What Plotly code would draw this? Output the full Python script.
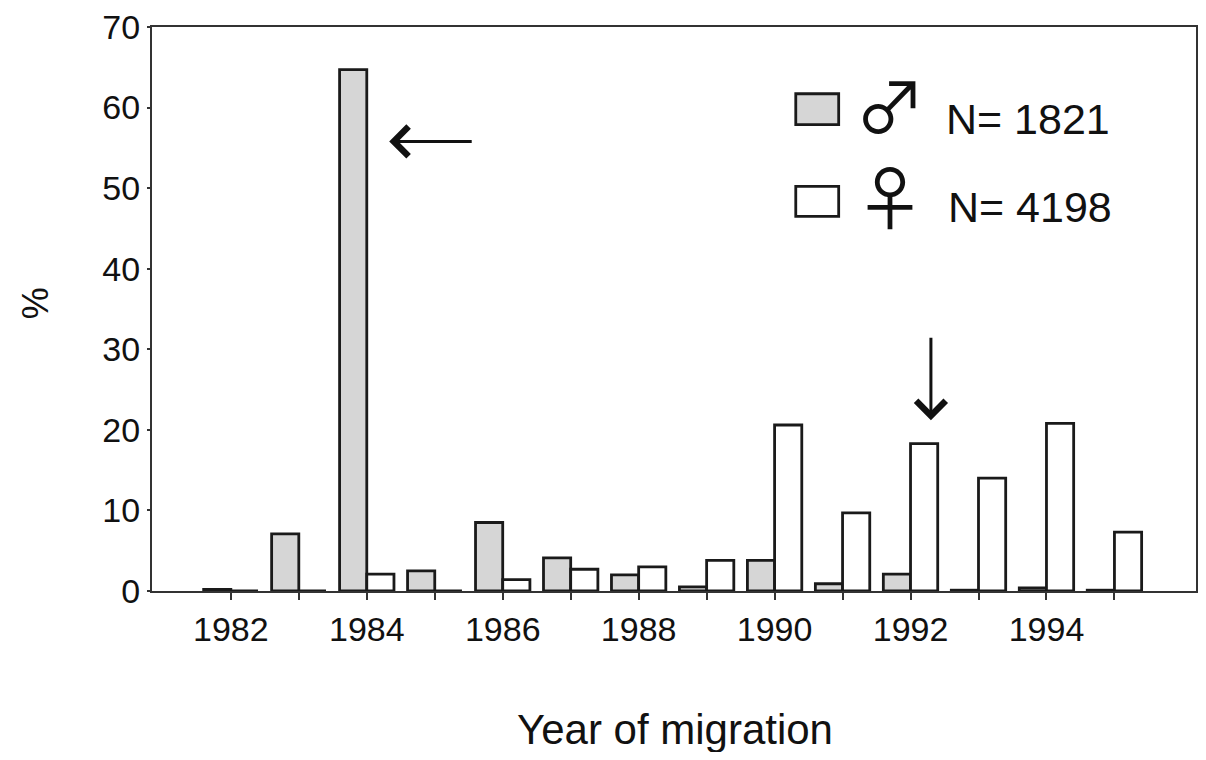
import plotly.graph_objects as go

# ---- data ----
years = [1982, 1983, 1984, 1985, 1986, 1987, 1988, 1989, 1990, 1991, 1992, 1993, 1994, 1995]
male_pct = [0.2, 7.1, 64.7, 2.5, 8.5, 4.1, 2.0, 0.5, 3.8, 0.9, 2.1, 0.1, 0.4, 0.1]
female_pct = [0.0, 0.0, 2.1, 0.0, 1.4, 2.7, 3.0, 3.8, 20.6, 9.7, 18.3, 14.0, 20.8, 7.3]
x_tick_vals = [1982, 1984, 1986, 1988, 1990, 1992, 1994]
x_tick_text = ["1982", "1984", "1986", "1988", "1990", "1992", "1994"]
y_tick_vals = [0, 10, 20, 30, 40, 50, 60, 70]
male_label = "N= 1821"
female_label = "N= 4198"
sex_symbols = ["♂", "♀"]

FONT = "Liberation Sans, Arial, sans-serif"
SYM_FONT = "Noto Sans CJK JP, DejaVu Sans"
EDGE = "#1a1a1a"
AXIS = "#333333"
TXT = "#111111"

fig = go.Figure()
fig.add_trace(go.Bar(x=years, y=male_pct, name="male",
                     marker=dict(color="#d6d6d6", line=dict(color=EDGE, width=2.8))))
fig.add_trace(go.Bar(x=years, y=female_pct, name="female",
                     marker=dict(color="white", line=dict(color=EDGE, width=2.8))))

# page body has an 8px margin: figure sized to fit the 1206x760 window exactly
fig.update_layout(
    width=1190, height=744,
    margin=dict(l=144, r=0, t=17, b=161),
    paper_bgcolor="white", plot_bgcolor="white",
    barmode="group", bargap=0.2, bargroupgap=0.0,
    showlegend=False,
    font=dict(family=FONT, color=TXT, size=34),
)
fig.update_xaxes(
    range=[1980.84, 1996.2],
    tickmode="array", tickvals=x_tick_vals, ticktext=x_tick_text,
    ticks="outside", ticklen=7, tickwidth=2, tickcolor=AXIS,
    minor=dict(tickmode="array", tickvals=years, ticks="outside", ticklen=7,
               tickwidth=2, tickcolor=AXIS),
    showline=True, linecolor=AXIS, linewidth=2, mirror=True,
    showgrid=False, zeroline=False,
    tickfont=dict(size=34, family=FONT, color=TXT),
)
fig.update_yaxes(
    range=[0, 70],
    tickmode="array", tickvals=y_tick_vals,
    ticks="outside", ticklen=3, tickwidth=2, tickcolor=AXIS,
    ticklabeloverflow="allow",
    showline=True, linecolor=AXIS, linewidth=2, mirror=True,
    showgrid=False, zeroline=False,
    tickfont=dict(size=34, family=FONT, color=TXT),
)


def px_x(p):
    return (p - 152) / 1046.0


def px_y(p):
    return (591 - p) / 566.0


# axis titles
fig.add_annotation(text="Year of migration", xref="paper", yref="paper",
                   x=px_x(676), y=px_y(730), xanchor="center", yanchor="middle",
                   showarrow=False, font=dict(size=42, family=FONT, color=TXT))
fig.add_annotation(text="%", xref="paper", yref="paper",
                   x=px_x(35), y=px_y(302), xanchor="center", yanchor="middle",
                   textangle=-90, showarrow=False,
                   font=dict(size=36, family=FONT, color=TXT))

# arrows
fig.add_annotation(x=1984.33, y=55.8, xref="x", yref="y", text="",
                   showarrow=True, arrowhead=4, arrowsize=1.9, arrowwidth=3,
                   arrowcolor=TXT, ax=84, ay=0)
fig.add_annotation(x=1992.3, y=21.2, xref="x", yref="y", text="",
                   showarrow=True, arrowhead=4, arrowsize=1.9, arrowwidth=3,
                   arrowcolor=TXT, ax=0, ay=-84)

# custom legend
fig.add_shape(type="rect", xref="paper", yref="paper",
              x0=px_x(797), x1=px_x(840), y0=px_y(123), y1=px_y(92),
              fillcolor="#d6d6d6", line=dict(color=EDGE, width=2.8))
fig.add_shape(type="rect", xref="paper", yref="paper",
              x0=px_x(797), x1=px_x(840), y0=px_y(215), y1=px_y(185),
              fillcolor="white", line=dict(color=EDGE, width=2.8))
fig.add_annotation(text="<br>".join(sex_symbols), xref="paper", yref="paper",
                   x=px_x(891), y=px_y(147), align="center",
                   xanchor="center", yanchor="middle", showarrow=False,
                   font=dict(size=70, family=SYM_FONT, color=TXT))
fig.add_annotation(text=male_label, xref="paper", yref="paper", x=px_x(946), y=px_y(117),
                   xanchor="left", yanchor="middle", showarrow=False,
                   font=dict(size=43, family=FONT, color=TXT))
fig.add_annotation(text=female_label, xref="paper", yref="paper", x=px_x(948), y=px_y(206),
                   xanchor="left", yanchor="middle", showarrow=False,
                   font=dict(size=43, family=FONT, color=TXT))

fig.write_html("out.html")
